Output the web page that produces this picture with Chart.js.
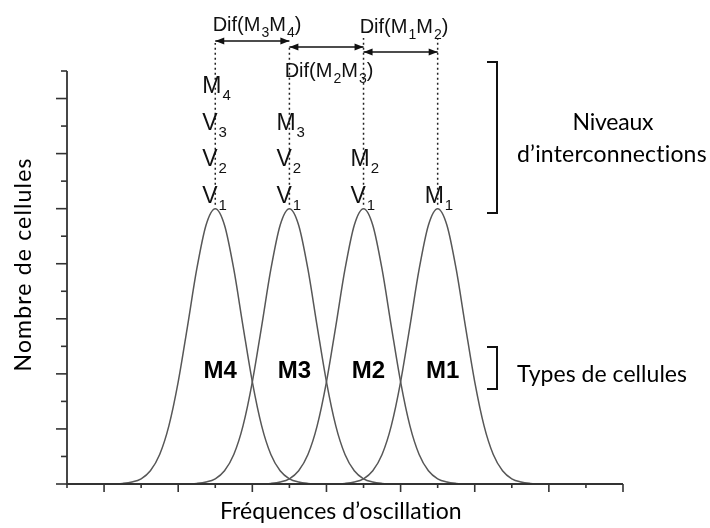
<!DOCTYPE html>
<html>
<head>
<meta charset="utf-8">
<script src="https://cdn.jsdelivr.net/npm/chart.js@4"></script>
<style>
  body { margin: 0; background: #fff; }
  canvas { display: block; }
</style>
</head>
<body>
<canvas id="graficoCellules" width="710" height="528"></canvas>
<script>
// centres des distributions (M4, M3, M2, M1) sur l'axe des fréquences
const centres = [4, 6, 8, 10]
const typesCellules = ['M4', 'M3', 'M2', 'M1']
// profil : écart au centre -> nombre de cellules
const ecarts = [-2.75, -2.5, -2.25, -2, -1.75, -1.5, -1.25, -1, -0.75, -0.5, -0.25, 0,
    0.25, 0.5, 0.75, 1, 1.25, 1.5, 1.75, 2, 2.25, 2.5, 2.75, 3, 3.4]
const hauteurs = [0, 0.02, 0.07, 0.19, 0.48, 1.07, 2.12, 3.71, 5.72, 7.8, 9.4, 10,
    9.4, 7.8, 5.72, 3.71, 2.12, 1.07, 0.48, 0.19, 0.07, 0.02, 0, 0, 0]
// niveaux d'interconnexion au-dessus de chaque pic (du bas vers le haut)
const niveaux = [['V_1', 'V_2', 'V_3', 'M_4'], ['V_1', 'V_2', 'M_3'], ['V_1', 'M_2'], ['M_1']]
const differences = ['Dif(M_3M_4)', 'Dif(M_2M_3)', 'Dif(M_1M_2)']

const ctx = document.getElementById('graficoCellules').getContext('2d')

const datasets = centres.map((c, i) => ({
    label: typesCellules[i],
    data: ecarts.map((dx, k) => ({ x: c + dx, y: hauteurs[k] })),
    borderColor: '#575757',
    borderWidth: 1.5,
    pointRadius: 0,
    fill: false,
    cubicInterpolationMode: 'monotone'
}))

// texte avec indices : '_' avant un caractère le met en indice
function texteIndice(c, texte, x, y, taille, tailleIndice, aligne) {
    const morceaux = []
    for (let i = 0; i < texte.length; i++) {
        if (texte[i] === '_') { morceaux.push([texte[i + 1], true]); i++ }
        else morceaux.push([texte[i], false])
    }
    const police = t => `${t}px "Liberation Sans", Arial, sans-serif`
    let largeur = 0
    morceaux.forEach(([t, sub]) => {
        c.font = police(sub ? tailleIndice : taille)
        largeur += c.measureText(t).width + (sub ? 1 : 0)
    })
    let cx = aligne === 'center' ? x - largeur / 2 : x
    c.textAlign = 'left'
    c.textBaseline = 'alphabetic'
    morceaux.forEach(([t, sub]) => {
        c.font = police(sub ? tailleIndice : taille)
        c.fillText(t, cx + (sub ? 1 : 0), sub ? y + taille * 0.3 : y)
        cx += c.measureText(t).width + (sub ? 1 : 0)
    })
}

// texte centré, étiré à la largeur voulue avec l'espacement des lettres
function texteLarge(c, texte, x, y, largeur) {
    c.letterSpacing = '0px'
    const mesure = c.measureText(texte).width
    c.letterSpacing = ((largeur - mesure) / (texte.length - 1)) + 'px'
    c.textAlign = 'left'
    c.fillText(texte, x - largeur / 2, y)
    c.letterSpacing = '0px'
}

function fleche(c, x1, x2, y) {
    c.beginPath()
    c.moveTo(x1, y)
    c.lineTo(x2, y)
    c.stroke()
    ;[[x1, 1], [x2, -1]].forEach(([x, s]) => {
        c.beginPath()
        c.moveTo(x, y)
        c.lineTo(x + s * 9, y - 3.5)
        c.lineTo(x + s * 9, y + 3.5)
        c.closePath()
        c.fill()
    })
}

function crochet(c, x, y1, y2) {
    c.beginPath()
    c.moveTo(x - 10, y1)
    c.lineTo(x, y1)
    c.lineTo(x, y2)
    c.lineTo(x - 10, y2)
    c.stroke()
}

const decor = {
    id: 'decor',
    afterDraw(chart) {
        const c = chart.ctx
        const sx = chart.scales.x
        const sy = chart.scales.y
        const area = chart.chartArea
        c.save()

        // axes et graduations
        c.strokeStyle = '#333'
        c.lineWidth = 1.8
        c.beginPath()
        c.moveTo(area.left, area.top)
        c.lineTo(area.left, area.bottom)
        c.lineTo(area.right, area.bottom)
        c.stroke()
        c.lineWidth = 1.6
        for (let v = sx.min; v <= sx.max; v++) {
            const px = sx.getPixelForValue(v)
            const long = v % 2 === 1
            c.beginPath()
            c.moveTo(px, area.bottom)
            c.lineTo(px, area.bottom + (long ? 8 : 4))
            c.stroke()
        }
        for (let v = sy.min; v <= sy.max; v++) {
            const py = sy.getPixelForValue(v)
            const long = v % 2 === 0
            c.beginPath()
            c.moveTo(area.left, py)
            c.lineTo(area.left - (long ? 11 : 6), py)
            c.stroke()
        }

        // lignes pointillées au-dessus des pics
        const hautsPointilles = [43, 46, 38, 38]
        c.setLineDash([2, 3])
        c.lineWidth = 1.5
        c.strokeStyle = '#222'
        centres.forEach((v, i) => {
            const px = sx.getPixelForValue(v)
            c.beginPath()
            c.moveTo(px, sy.getPixelForValue(10) - 4)
            c.lineTo(px, hautsPointilles[i])
            c.stroke()
        })
        c.setLineDash([])

        // flèches des différences
        c.fillStyle = '#111'
        c.strokeStyle = '#111'
        c.lineWidth = 1.5
        const yFleches = [41, 47, 52]
        const posTextes = [[257, 31], [329, 77], [404, 33]]
        differences.forEach((t, i) => {
            fleche(c, sx.getPixelForValue(centres[i]), sx.getPixelForValue(centres[i + 1]), yFleches[i])
            texteIndice(c, t, posTextes[i][0], posTextes[i][1], 20, 14, 'center')
        })

        // niveaux d'interconnexion
        const yLignes = [203, 166, 130, 93]
        niveaux.forEach((col, i) => {
            const px = sx.getPixelForValue(centres[i])
            col.forEach((t, k) => texteIndice(c, t, px - 13, yLignes[k], 23, 15, 'left'))
        })

        // types de cellules
        c.fillStyle = '#000'
        c.font = 'bold 24px "Liberation Sans", Arial, sans-serif'
        c.textAlign = 'center'
        c.textBaseline = 'middle'
        typesCellules.forEach((t, i) => {
            c.fillText(t, sx.getPixelForValue(centres[i]) + 5, sy.getPixelForValue(4.1))
        })

        // crochets et légendes de droite
        c.lineWidth = 2
        c.strokeStyle = '#111'
        crochet(c, 497, 62, 213)
        crochet(c, 497, 347, 389)
        c.font = '23px Lato, "Open Sans", sans-serif'
        texteLarge(c, 'Niveaux', 613, 123, 81)
        texteLarge(c, 'd\u2019interconnections', 612, 155, 190)
        texteLarge(c, 'Types de cellules', 602, 375, 170)

        // titres des axes
        c.font = '23px Lato, "Open Sans", sans-serif'
        texteLarge(c, 'Fr\u00e9quences d\u2019oscillation', 341, 512, 242)
        c.translate(24, 265)
        c.rotate(-Math.PI / 2)
        texteLarge(c, 'Nombre de cellules', 0, 0, 213)
        c.restore()
    }
}

new Chart(ctx, {
    type: 'line',
    data: { datasets },
    options: {
        responsive: false,
        animation: false,
        layout: { padding: { left: 67, right: 87, top: 71, bottom: 44 } },
        plugins: { legend: { display: false }, tooltip: { enabled: false } },
        scales: {
            x: { type: 'linear', min: 0, max: 15, display: false },
            y: { type: 'linear', min: 0, max: 15, display: false }
        }
    },
    plugins: [decor]
})
</script>
</body>
</html>
